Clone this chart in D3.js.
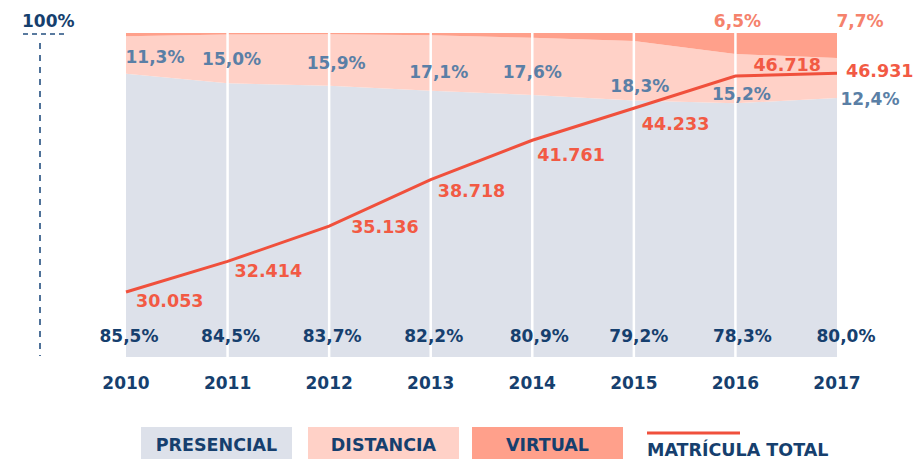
<!DOCTYPE html>
<html>
<head>
<meta charset="utf-8">
<script src="https://cdn.jsdelivr.net/npm/d3@7"></script>
<style>
  body { margin: 0; background: #fff; }
  text { font-family: "DejaVu Sans", sans-serif; font-weight: bold; }
</style>
</head>
<body>
<div id="chart"></div>
<script>
const years = ["2010", "2011", "2012", "2013", "2014", "2015", "2016", "2017"];
const presencial = [85.5, 84.5, 83.7, 82.2, 80.9, 79.2, 78.3, 80.0];
const distancia = [11.3, 15.0, 15.9, 17.1, 17.6, 18.3, 15.2, 12.4];
const virtual = [1.0, 0.5, 0.4, 0.7, 1.5, 2.5, 6.5, 7.7];
const matricula = [30053, 32414, 35136, 38718, 41761, 44233, 46718, 46931];
const legendItems = ["PRESENCIAL", "DISTANCIA", "VIRTUAL"];
const legendLine = "MATRÍCULA TOTAL";

// label nudges (layout only)
const presDx = [3, 3, 3, 3, 7, 5, 7, 9];
const distPos = [[29, 63], [4, 65], [7, 69], [8, 78], [0, 78], [6, 92], [6, 100], [33, 105]];
const virtDx = [0, 0, 0, 0, 0, 0, 2, 23];
const totalPos = [[10, 15], [7, 16], [22, 7], [7, 17], [5, 21], [8, 22], [18, -5], [9, 4]];

const COLORS = {
  presencial: "#dde1ea",
  distancia: "#ffd1c7",
  virtual: "#ffa08b",
  line: "#f0503c",
  lineText: "#f25a44",
  navy: "#163f6e",
  steel: "#5a7fa6",
  virtText: "#f5826c",
  axis: "#234f80"
};

const width = 913;
const height = 459;
const plotTop = 33;
const plotBottom = 357;

const pct = v => d3.format(".1f")(v).replace(".", ",") + "%";
const num = d3.formatLocale({ decimal: ",", thousands: ".", grouping: [3], currency: ["", ""] }).format(",d");

const svg = d3.select("#chart")
  .append("svg")
  .attr("width", width)
  .attr("height", height);

const x = d3.scalePoint().domain(years).range([126, 837]);
const yShare = d3.scaleLinear().domain([0, 1]).range([plotBottom, plotTop]);
const yTotal = d3.scaleLinear().domain([30053, 46718]).range([292, 76]);

const rows = years.map((yr, i) => ({
  year: yr,
  presencial: presencial[i],
  distancia: distancia[i],
  virtual: virtual[i]
}));

const stack = d3.stack()
  .keys(["presencial", "distancia", "virtual"])
  .offset(d3.stackOffsetExpand);
const series = stack(rows);

const area = d3.area()
  .x(d => x(d.data.year))
  .y0(d => yShare(d[0]))
  .y1(d => yShare(d[1]));

svg.append("g")
  .selectAll("path")
  .data(series)
  .join("path")
  .attr("d", area)
  .attr("fill", d => COLORS[d.key]);

// white year separators
svg.append("g")
  .selectAll("line")
  .data(years.slice(1, -1))
  .join("line")
  .attr("x1", d => x(d))
  .attr("x2", d => x(d))
  .attr("y1", plotTop)
  .attr("y2", plotBottom)
  .attr("stroke", "#fff")
  .attr("stroke-width", 2.5);

// matricula total line
const line = d3.line()
  .x((d, i) => x(years[i]))
  .y(d => yTotal(d));

svg.append("path")
  .datum(matricula)
  .attr("d", line)
  .attr("fill", "none")
  .attr("stroke", COLORS.line)
  .attr("stroke-width", 3);

// left dashed axis
svg.append("text")
  .attr("x", 22)
  .attr("y", 27)
  .attr("font-size", 17)
  .attr("fill", COLORS.navy)
  .text("100%");
svg.append("line")
  .attr("x1", 23).attr("x2", 66)
  .attr("y1", 34).attr("y2", 34)
  .attr("stroke", COLORS.axis)
  .attr("stroke-width", 1.6)
  .attr("stroke-dasharray", "5 4");
svg.append("line")
  .attr("x1", 40).attr("x2", 40)
  .attr("y1", 43).attr("y2", 356)
  .attr("stroke", COLORS.axis)
  .attr("stroke-width", 1.6)
  .attr("stroke-dasharray", "6 6");

// presencial labels
svg.append("g")
  .selectAll("text")
  .data(presencial)
  .join("text")
  .attr("x", (d, i) => x(years[i]) + presDx[i])
  .attr("y", 342)
  .attr("text-anchor", "middle")
  .attr("font-size", 17)
  .attr("fill", COLORS.navy)
  .text(d => pct(d));

// distancia labels
svg.append("g")
  .selectAll("text")
  .data(distancia)
  .join("text")
  .attr("x", (d, i) => x(years[i]) + distPos[i][0])
  .attr("y", (d, i) => distPos[i][1])
  .attr("text-anchor", "middle")
  .attr("font-size", 17)
  .attr("fill", COLORS.steel)
  .text(d => pct(d));

// virtual labels (only where the band is visible)
svg.append("g")
  .selectAll("text")
  .data(virtual.map((v, i) => ({ v, i })).filter(d => d.v >= 5))
  .join("text")
  .attr("x", d => x(years[d.i]) + virtDx[d.i])
  .attr("y", 27)
  .attr("text-anchor", "middle")
  .attr("font-size", 17)
  .attr("fill", COLORS.virtText)
  .text(d => pct(d.v));

// total labels
svg.append("g")
  .selectAll("text")
  .data(matricula)
  .join("text")
  .attr("x", (d, i) => x(years[i]) + totalPos[i][0])
  .attr("y", (d, i) => yTotal(d) + totalPos[i][1])
  .attr("font-size", 17.5)
  .attr("fill", COLORS.lineText)
  .text(d => num(d));

// year axis
svg.append("g")
  .selectAll("text")
  .data(years)
  .join("text")
  .attr("x", d => x(d))
  .attr("y", 389)
  .attr("text-anchor", "middle")
  .attr("font-size", 17)
  .attr("fill", COLORS.navy)
  .text(d => d);

// legend
const legendX = d3.scaleOrdinal().domain(legendItems).range([141, 308, 472]);
const lg = svg.append("g");
lg.selectAll("rect")
  .data(legendItems)
  .join("rect")
  .attr("x", d => legendX(d))
  .attr("y", 427)
  .attr("width", 151)
  .attr("height", 40)
  .attr("fill", (d, i) => COLORS[series[i].key]);
lg.selectAll("text.box")
  .data(legendItems)
  .join("text")
  .attr("class", "box")
  .attr("x", d => legendX(d) + 75.5)
  .attr("y", 451)
  .attr("text-anchor", "middle")
  .attr("font-size", 17.5)
  .attr("fill", COLORS.navy)
  .text(d => d);
lg.append("line")
  .attr("x1", 647).attr("x2", 740)
  .attr("y1", 433).attr("y2", 433)
  .attr("stroke", COLORS.line)
  .attr("stroke-width", 3);
lg.append("text")
  .attr("x", 647)
  .attr("y", 456)
  .attr("font-size", 17.5)
  .attr("fill", COLORS.navy)
  .text(legendLine);
</script>
</body>
</html>
